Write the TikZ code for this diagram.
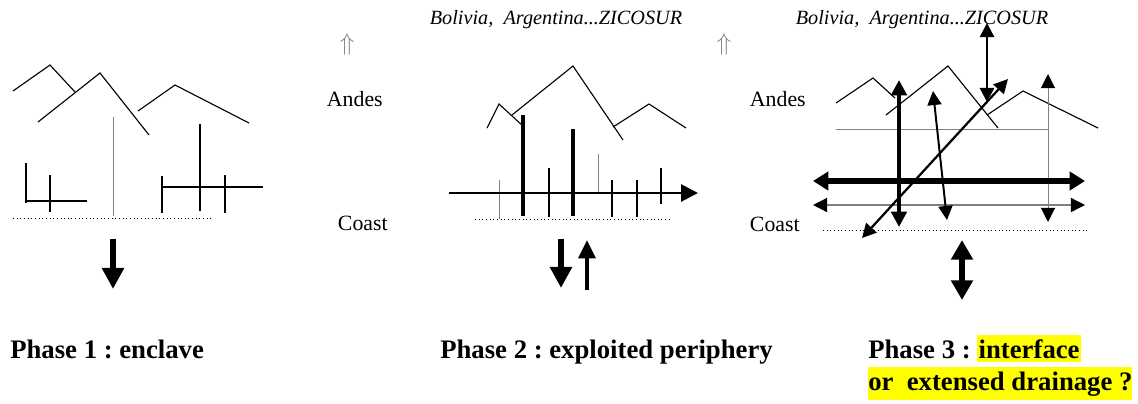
\documentclass[tikz,border=0pt]{standalone}
\usepackage{fontspec}
\setmainfont{Liberation Serif}
\usetikzlibrary{arrows.meta}
\definecolor{Ink}{HTML}{000000}
\definecolor{Faint}{HTML}{808080}
\definecolor{Marker}{HTML}{FFFF00}
\frenchspacing

\begin{document}
\begin{tikzpicture}[x=0.025cm,y=-0.025cm,
    ridge/.style={draw=Ink,line width=0.8pt},
    faint/.style={draw=Faint,line width=0.7pt},
    trib/.style={draw=Ink,line width=1.4pt},
    trunk/.style={draw=Ink,line width=2.6pt},
    shore/.style={draw=Ink,dotted,line width=0.6pt},
    fat/.style={line width=4.8pt,-{Triangle[length=15pt,width=15pt]}},
    slim/.style={line width=2.6pt,-{Triangle[length=13pt,width=12pt]}},
    duo/.style={line width=#1,{Triangle[length=10pt,width=10pt,color=Ink]}-{Triangle[length=10pt,width=10pt,color=Ink]}},
    lab/.style={font=\fontsize{15.5}{18}\selectfont,anchor=base west},
    head/.style={font=\fontsize{14.4}{16}\selectfont\itshape,anchor=base},
    phase/.style={font=\fontsize{19}{22}\selectfont\bfseries,anchor=base west,inner sep=0pt},
    up/.style={text=Faint,font=\fontsize{16}{18}\selectfont}
  ]
    \useasboundingbox (0,0) rectangle (1138,403);

    % Phase 1 : enclave
    \draw[ridge] (13,91) -- (50,65) -- (75,92);
    \draw[ridge] (38,122) -- (100,73) -- (149,135);
    \draw[ridge] (138,111) -- (175,85) -- (249,123);
    \draw[faint] (113,117) -- (113,216);
    \draw[draw=Ink,line width=0.9pt] (26,163) -- (26,203) (50,175) -- (50,212) (26,201) -- (87,201);
    \draw[trib] (162,176) -- (162,213) (162,187) -- (263,187);
    \draw[trunk,line width=1.9pt] (200,124) -- (200,211);
    \draw[draw=Ink,line width=0.9pt] (225,175) -- (225,213);
    \draw[shore] (13,218) -- (211,218);
    \draw[fat] (113,239) -- (113,289);

    % labels between panels
    \node[up] (u1) at (347,44) {$\Uparrow$};
    \node[up] (u2) at (724,44) {$\Uparrow$};
    \node[lab] (andesA) at (322,106) {Andes};
    \node[lab] (coastA) at (333,230) {Coast};

    % Phase 2 : exploited periphery
    \node[head] (tollB) at (556,24) {Bolivia,\ \ Argentina...ZICOSUR};
    \draw[ridge] (487,128) -- (499,104) -- (523,126);
    \draw[ridge] (512,115) -- (573,66) -- (623,140);
    \draw[ridge] (613,127) -- (649,104) -- (686,128);
    \draw[faint] (499,180) -- (499,219) (598,154) -- (598,193);
    \draw[trunk] (523,115) -- (523,216) (573,129) -- (573,216);
    \draw[trib] (549,168) -- (549,217) (637,180) -- (637,217) (661,168) -- (661,204);
    \draw[draw=Ink,line width=0.9pt] (612,180) -- (612,217);
    \draw[line width=2pt,-{Triangle[length=12pt,width=12pt]}] (449,193) -- (698,193);
    \draw[shore] (475,219) -- (672,219);
    \draw[fat] (561,239) -- (561,288);
    \draw[slim] (587,290) -- (587,240);

    % Phase 3 : interface
    \node[head] (tollC) at (922,24) {Bolivia,\ \ Argentina...ZICOSUR};
    \node[lab] (andesC) at (745,106) {Andes};
    \node[lab] (coastC) at (745,231) {Coast};
    \draw[ridge] (836,103) -- (873,78) -- (895,98);
    \draw[ridge] (886,115) -- (948,66) -- (998,128);
    \draw[ridge] (987,115) -- (1023,91) -- (1098,128);
    \draw[faint] (836,129) -- (1048,129);
    \draw[faint,duo=0.7pt] (1048,74) -- (1048,222);
    \draw[faint,duo=0.9pt] (813,205) -- (1085,205);
    \draw[duo=3.6pt,{Triangle[length=11pt,width=13pt]}-{Triangle[length=11pt,width=13pt]}] (813,181) -- (1085,181);
    \draw[duo=2.8pt,{Triangle[length=11pt,width=11pt]}-{Triangle[length=11pt,width=11pt]}] (899,80) -- (899,227);
    \draw[duo=1.4pt] (933,91) -- (947,220);
    \draw[duo=1.6pt] (862,238) -- (1008,79);
    \draw[duo=1.8pt] (987,23) -- (987,102);
    \draw[shore] (823,230) -- (1087,230);
    \draw[line width=4.3pt,{Triangle[length=14pt,width=15pt]}-{Triangle[length=14pt,width=15pt]}] (962,240) -- (962,300);

    % captions
    \node[phase] (capA) at (10,358) {Phase 1 : enclave};
    \node[phase] (capB) at (440,358) {Phase 2 : exploited periphery};
    \node[phase] (capC) at (868,358) {Phase 3 :};
    \node[phase,fill=Marker,inner ysep=3pt,inner xsep=1pt] (markC) at (977,358) {interface};
    \node[phase,fill=Marker,inner ysep=3pt] (markD) at (868,390) {or\ \ extensed drainage ?};
  \end{tikzpicture}
\end{document}
